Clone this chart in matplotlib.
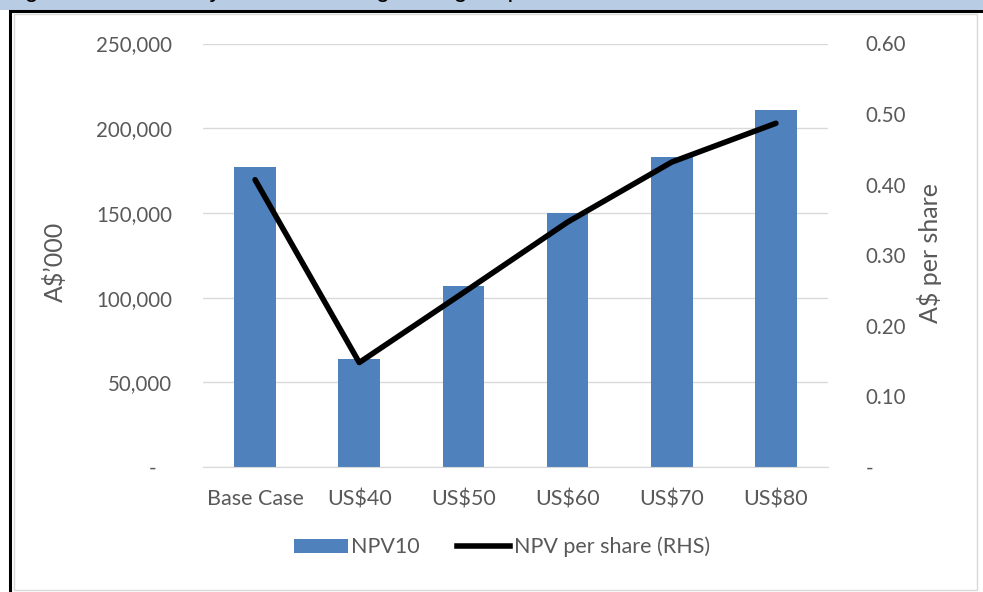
import numpy as np
import matplotlib.pyplot as plt
from matplotlib.patches import Rectangle
from matplotlib.lines import Line2D
from matplotlib.ticker import FuncFormatter

plt.rcParams['font.family'] = ['Lato', 'DejaVu Sans']

# NPV sensitivity to the gold price
categories = ['Base Case', 'US$40', 'US$50', 'US$60', 'US$70', 'US$80']
npv10 = [177000, 63600, 107000, 150000, 183200, 210500]
npv_per_share = [0.407, 0.148, 0.247, 0.347, 0.432, 0.487]
left_ticks = [0, 50000, 100000, 150000, 200000, 250000]
right_ticks = [0, 0.1, 0.2, 0.3, 0.4, 0.5, 0.6]

W, H = 983, 592
BAR = '#4f81bd'
TXT = '#595959'
GRID = '#d9d9d9'


def fx(px):
    return px / W


def fy(py):
    return 1 - py / H


fig = plt.figure(figsize=(W / 100, H / 100), dpi=100)

# caption band (caption sits mostly above the page edge) and report frame
fig.add_artist(Rectangle((0, fy(10)), 1, 10 / H, transform=fig.transFigure,
                         facecolor='#b8cce4', edgecolor='none', zorder=0))
fig.text(fx(4), fy(-2.5), 'Figure 9: Sensitivity of NPV to long term gold price',
         fontsize=18, family='Liberation Sans', color='black', va='baseline')
fig.add_artist(Rectangle((fx(10), fy(H + 20)), 1.2, (H + 9) / H, transform=fig.transFigure,
                         facecolor='white', edgecolor='black', linewidth=2.2, zorder=0.5))
fig.add_artist(Rectangle((fx(14), fy(590)), fx(977 - 14), (590 - 14) / H,
                         transform=fig.transFigure, facecolor='white',
                         edgecolor=GRID, linewidth=1, zorder=0.6))

ax = fig.add_axes([fx(203), fy(467), fx(828 - 203), (467 - 43.5) / H])
ax.set_facecolor('none')
ax.set_zorder(2)
x = np.arange(len(categories))
ax.bar(x, npv10, width=0.4, color=BAR, zorder=2)
ax.set_xlim(-0.5, len(categories) - 0.5)
ax.set_ylim(0, 250000)
ax.set_yticks(left_ticks)
ax.yaxis.set_major_formatter(FuncFormatter(lambda v, p: '-   ' if v == 0 else f'{v:,.0f}'))
ax.set_xticks(x)
ax.set_xticklabels(categories)
ax.grid(axis='y', color=GRID, linewidth=1, zorder=0)
ax.tick_params(axis='y', length=0, pad=22, labelsize=14.8, labelcolor=TXT)
ax.tick_params(axis='x', length=0, pad=16, labelsize=15.5, labelcolor=TXT)
for s in ['top', 'left', 'right']:
    ax.spines[s].set_visible(False)
ax.spines['bottom'].set_color(GRID)
ax.set_ylabel('A$’000', fontsize=18, color=TXT)
ax.yaxis.set_label_coords((67 - 203) / 625, (467 - 262) / 423.5)

ax2 = ax.twinx()
ax2.plot(x, npv_per_share, color='black', linewidth=4.0,
         solid_capstyle='round', solid_joinstyle='round', zorder=3)
ax2.set_ylim(0, 0.6)
ax2.set_yticks(right_ticks)
ax2.yaxis.set_major_formatter(FuncFormatter(lambda v, p: '-' if v == 0 else f'{v:.2f}'))
ax2.tick_params(axis='y', length=0, pad=27, labelsize=14.8, labelcolor=TXT)
for s in ['top', 'left', 'right', 'bottom']:
    ax2.spines[s].set_visible(False)
ax2.set_ylabel('A$ per share', fontsize=18, color=TXT)
ax2.yaxis.set_label_coords((917 - 203) / 625, (467 - 253) / 423.5)

handles = [Rectangle((0, 0), 1, 1, facecolor=BAR, edgecolor='none'),
           Line2D([], [], color='black', linewidth=4.0)]
fig.legend(handles, ['NPV10', 'NPV per share (RHS)'], loc='center',
           bbox_to_anchor=(fx(502), fy(547)), ncol=2, frameon=False,
           fontsize=15.5, labelcolor=TXT, handlelength=2.5, handleheight=0.6,
           handletextpad=0.15, columnspacing=1.7)

fig.savefig('out.png', dpi=100)
